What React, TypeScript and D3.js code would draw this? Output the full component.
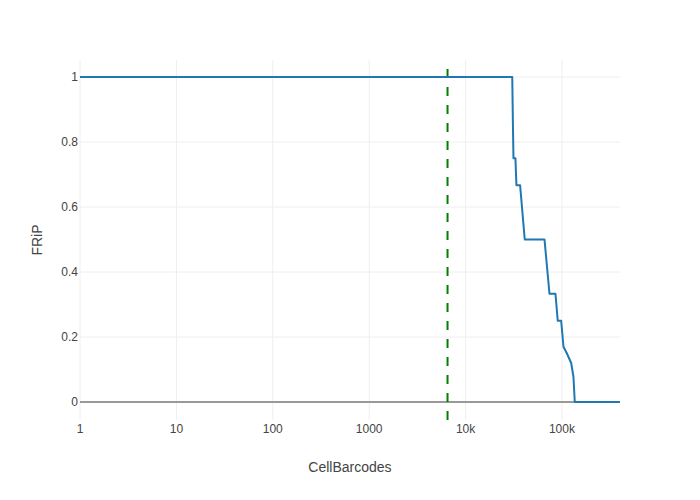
import React from "react";
import * as d3 from "d3";

const barcodes = [1, 30500, 31000, 31400, 32900, 33700, 36800, 41100, 65900, 74200, 85600, 90400, 98100, 103700, 112300, 124600, 131500, 135800, 400000];
const frip = [1, 1, 0.85, 0.75, 0.75, 0.667, 0.667, 0.5, 0.5, 0.333, 0.333, 0.25, 0.25, 0.17, 0.15, 0.12, 0.078, 0, 0];
const cutoff = 6500;
const xTicks = [1, 10, 100, 1000, 10000, 100000];
const xTickLabels = ["1", "10", "100", "1000", "10k", "100k"];
const yTicks = [0, 0.2, 0.4, 0.6, 0.8, 1];
const yTickLabels = ["0", "0.2", "0.4", "0.6", "0.8", "1"];

const W = 700, H = 500;
const L = 80, R = 620, T = 60, B = 420;
const FONT = "'Liberation Sans', Arial, sans-serif";

export default function App() {
  const x = d3.scaleLog().domain([1, 400000]).range([L, R]);
  const y = d3.scaleLinear().domain([-18 / 325, 1 + 17 / 325]).range([B, T]);
  const pts: [number, number][] = barcodes.map((b, i) => [b, frip[i]]);
  const line = d3.line<[number, number]>().x(d => x(d[0])).y(d => y(d[1]));
  const cx = x(cutoff);
  return (
    <svg width={W} height={H} style={{ position: "absolute", left: 0, top: 0, background: "#fff" }}>
      <rect x={0} y={0} width={W} height={H} fill="#fff" />
      {xTicks.map(t => (
        <line key={"gx" + t} x1={x(t)} x2={x(t)} y1={T} y2={B} stroke="#eee" strokeWidth={1} />
      ))}
      {yTicks.filter(t => t !== 0).map(t => (
        <line key={"gy" + t} x1={L} x2={R} y1={y(t)} y2={y(t)} stroke="#eee" strokeWidth={1} />
      ))}
      <line x1={L} x2={R} y1={y(0)} y2={y(0)} stroke="#999" strokeWidth={2} />
      <line x1={cx} x2={cx} y1={B - 0.975 * (B - T)} y2={B} stroke="green" strokeWidth={2} strokeDasharray="9,9" />
      <path d={line(pts) || ""} fill="none" stroke="#1f77b4" strokeWidth={2} strokeLinejoin="round" />
      {xTicks.map((t, i) => (
        <text key={"tx" + t} x={x(t)} y={433} textAnchor="middle" fontFamily={FONT} fontSize={12} fill="#444">{xTickLabels[i]}</text>
      ))}
      {yTicks.map((t, i) => (
        <text key={"ty" + t} x={78} y={y(t) + 4.2} textAnchor="end" fontFamily={FONT} fontSize={12} fill="#444">{yTickLabels[i]}</text>
      ))}
      <text x={(L + R) / 2} y={472} textAnchor="middle" fontFamily={FONT} fontSize={14} fill="#444">CellBarcodes</text>
      <text transform={`translate(42,${(T + B) / 2}) rotate(-90)`} textAnchor="middle" fontFamily={FONT} fontSize={14} fill="#444">FRiP</text>
    </svg>
  );
}
